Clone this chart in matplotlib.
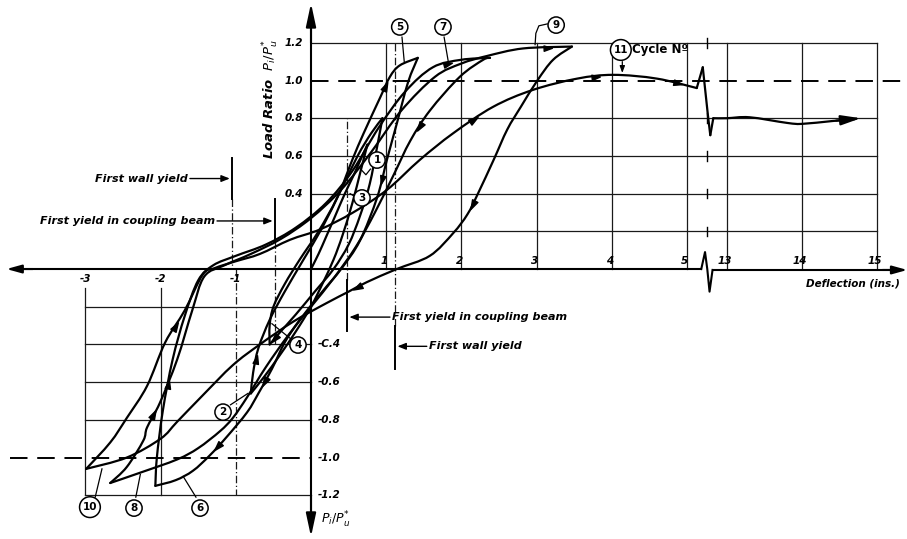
import numpy as np
import matplotlib
matplotlib.use("Agg")
import matplotlib.pyplot as plt
from matplotlib.path import Path
from matplotlib.patches import PathPatch

# ---------------- data (deflection in inches, load ratio Pi/Pu*) ----------------
x_ticks_pos = [1, 2, 3, 4, 5, 13, 14, 15]
x_ticks_neg = [-3, -2, -1]
y_ticks_pos = [0.4, 0.6, 0.8, 1.0, 1.2]
y_labels_pos = ["0.4", "0.6", "0.8", "1.0", "1.2"]
y_ticks_neg = [-0.4, -0.6, -0.8, -1.0, -1.2]
y_labels_neg = ["-C.4", "-0.6", "-0.8", "-1.0", "-1.2"]

c1_x = [0.0, 0.10, 0.20, 0.32, 0.45, 0.57, 0.67, 0.75]
c1_y = [0.0, 0.08, 0.17, 0.28, 0.40, 0.50, 0.59, 0.66]
c2_x = [0.75, 0.66, 0.55, 0.42, 0.30, 0.15, 0.0, -0.20, -0.42, -0.62, -0.80]
c2_y = [0.66, 0.52, 0.35, 0.18, 0.05, -0.08, -0.20, -0.33, -0.46, -0.57, -0.66]
c3_x = [-0.80, -0.77, -0.70, -0.55, -0.35, -0.10, 0.15, 0.40, 0.62, 0.80, 0.95]
c3_y = [-0.66, -0.55, -0.42, -0.27, -0.12, 0.05, 0.22, 0.42, 0.60, 0.72, 0.80]
c4_x = [0.95, 0.88, 0.78, 0.65, 0.50, 0.30, 0.05, -0.20, -0.40, -0.55]
c4_y = [0.80, 0.65, 0.45, 0.28, 0.13, 0.0, -0.12, -0.24, -0.33, -0.40]
c5_x = [-0.55, -0.55, -0.50, -0.35, -0.15, 0.10, 0.35, 0.55, 0.70, 0.92, 1.05, 1.18, 1.42]
c5_y = [-0.40, -0.30, -0.20, -0.08, 0.05, 0.20, 0.38, 0.58, 0.72, 0.91, 1.02, 1.08, 1.12]
c6_x = [1.42, 1.29, 1.14, 1.01, 0.88, 0.65, 0.40, 0.15, -0.15, -0.35, -0.52, -0.70,
        -0.85, -1.12, -1.35, -1.57, -1.80, -2.07]
c6_y = [1.12, 0.99, 0.77, 0.58, 0.38, 0.15, 0.0, -0.12, -0.27, -0.39, -0.53, -0.66,
        -0.76, -0.89, -0.99, -1.07, -1.12, -1.15]
c7_x = [-2.07, -2.05, -1.97, -1.84, -1.68, -1.50, -1.30, -1.00, -0.60, -0.20, 0.20,
        0.55, 0.90, 1.25, 1.62, 2.00, 2.38]
c7_y = [-1.15, -1.00, -0.75, -0.48, -0.25, -0.06, 0.02, 0.07, 0.13, 0.22, 0.35,
        0.52, 0.75, 0.94, 1.07, 1.11, 1.12]
c8_x = [2.38, 2.29, 1.98, 1.58, 1.32, 1.10, 0.85, 0.60, 0.30, 0.0, -0.30, -0.60,
        -0.85, -1.04, -1.21, -1.50, -1.78, -2.27, -2.67]
c8_y = [1.12, 1.11, 1.02, 0.84, 0.68, 0.50, 0.30, 0.12, -0.05, -0.20, -0.35, -0.52,
        -0.68, -0.79, -0.86, -0.95, -1.01, -1.08, -1.135]
c9_x = [-2.67, -2.45, -2.23, -2.18, -2.01, -1.78, -1.58, -1.42, -1.15, -0.80, -0.40,
        0.0, 0.40, 0.80, 1.20, 1.65, 2.00, 2.34, 2.82, 3.47]
c9_y = [-1.135, -1.05, -0.91, -0.84, -0.71, -0.48, -0.22, -0.04, 0.02, 0.08, 0.16,
        0.27, 0.42, 0.62, 0.84, 1.02, 1.09, 1.13, 1.17, 1.18]
c10_x = [3.47, 3.22, 3.01, 2.79, 2.61, 2.43, 2.22, 2.08, 1.89, 1.58, 1.14, 0.74, 0.50,
         0.21, -0.24, -0.68, -1.04, -1.44, -1.78, -2.00, -2.45, -2.99]
c10_y = [1.18, 1.11, 1.00, 0.86, 0.74, 0.58, 0.40, 0.29, 0.19, 0.07, 0.0, -0.07, -0.12,
         -0.18, -0.28, -0.40, -0.51, -0.67, -0.81, -0.90, -1.00, -1.06]
c11_x = [-2.99, -2.67, -2.45, -2.18, -1.94, -1.68, -1.44, -1.28, -1.01, -0.68, -0.28,
         0.12, 0.56, 1.01, 1.45, 1.89, 2.42, 2.95, 3.54, 4.02, 4.60, 5.13, 5.21, 5.28,
         5.31, 5.35, 13.0, 13.3, 13.8, 14.0, 14.4, 14.7]
c11_y = [-1.06, -0.92, -0.79, -0.62, -0.39, -0.22, -0.03, 0.005, 0.04, 0.08, 0.155,
         0.21, 0.30, 0.42, 0.58, 0.72, 0.86, 0.95, 1.01, 1.03, 1.01, 0.96, 1.07, 0.81,
         0.71, 0.80, 0.80, 0.805, 0.775, 0.77, 0.785, 0.795]

# (x, y, arrow indices, sharp-corner indices)
cycles = [(c1_x, c1_y, [], []), (c2_x, c2_y, [], []), (c3_x, c3_y, [1], []),
          (c4_x, c4_y, [8], []), (c5_x, c5_y, [9], []), (c6_x, c6_y, [3, 10, 13], []),
          (c7_x, c7_y, [2, 14], []), (c8_x, c8_y, [3], []), (c9_x, c9_y, [3, 18], []),
          (c10_x, c10_y, [6, 11], []), (c11_x, c11_y, [4, 15, 18, 20], [21, 22, 23, 24, 25])]

# ---------------------------------------------------------------------------------
BREAK_SHIFT = 7.468   # 13 in. is drawn right after 5 in.


def bx(d):
    d = np.asarray(d, dtype=float)
    return np.where(d >= 12, d - BREAK_SHIFT, d)


fig = plt.figure(figsize=(9.07, 5.39), dpi=100)
ax = fig.add_axes([0, 0, 1, 1])
ax.set_xlim(-4.136, 7.926)
ax.set_ylim(-1.432, 1.427)
ax.axis("off")

K = "black"
GL = dict(color="#1a1a1a", lw=0.9, zorder=1)
TXT = dict(family="DejaVu Sans", weight="bold", style="italic", color=K)

# grid - upper right
for yv in [0.2, 0.4, 0.6, 0.8, 1.2]:
    ax.plot([0, bx(15)], [yv, yv], **GL)
for xv in [1, 2, 3, 4, 5, 13, 14, 15]:
    ax.plot([bx(xv)] * 2, [0, 1.2], **GL)
# grid - lower left
for yv in [-0.2, -0.4, -0.6, -0.8, -1.2]:
    ax.plot([-3, 0], [yv, yv], **GL)
for xv in [-3, -2]:
    ax.plot([xv, xv], [-0.1, -1.2], **GL)
ax.plot([-1, -1], [0.0, -1.2], color="#1a1a1a", lw=0.9, ls=(0, (6, 2, 1, 2)), zorder=1)

# break marks on grid lines
xb = 5.27
for yv in [0.2, 0.4, 0.6, 0.8, 1.2]:
    ax.plot([xb, xb], [yv - 0.025, yv + 0.025], color=K, lw=1.0, zorder=2)

# dashed 1.0 lines
ax.plot([0, 7.95], [1.0, 1.0], color=K, lw=1.4, ls=(0, (9, 5)), zorder=2)
ax.plot([-4.0, 0], [-1.0, -1.0], color=K, lw=1.4, ls=(0, (9, 5)), zorder=2)

# yield markers (dash-dot extensions + solid bars)
DD = dict(color="#1a1a1a", lw=0.9, ls=(0, (6, 2, 1, 2)), zorder=1)
ax.plot([1.12, 1.12], [-0.30, 1.2], **DD)
ax.plot([0.48, 0.48], [-0.06, 0.80], **DD)
ax.plot([-0.48, -0.48], [0.15, -0.40], **DD)
ax.plot([-1.05, -1.05], [0.37, 0.0], **DD)
BAR = dict(color=K, lw=1.4, zorder=3)
ax.plot([-1.05, -1.05], [0.37, 0.59], **BAR)
ax.plot([-0.48, -0.48], [0.15, 0.37], **BAR)
ax.plot([0.48, 0.48], [-0.06, -0.33], **BAR)
ax.plot([1.12, 1.12], [-0.30, -0.53], **BAR)
AR = dict(arrowstyle="-|>,head_length=0.5,head_width=0.2", color=K, lw=1.0,
          shrinkA=0, shrinkB=0)
ax.annotate("", xy=(-1.08, 0.48), xytext=(-1.61, 0.48), arrowprops=AR)
ax.annotate("", xy=(-0.51, 0.255), xytext=(-1.25, 0.255), arrowprops=AR)
ax.annotate("", xy=(0.51, -0.255), xytext=(1.05, -0.255), arrowprops=AR)
ax.annotate("", xy=(1.15, -0.41), xytext=(1.54, -0.41), arrowprops=AR)
ax.text(-1.64, 0.48, "First wall yield", ha="right", va="center", fontsize=8, **TXT)
ax.text(-1.28, 0.255, "First yield in coupling beam", ha="right", va="center",
        fontsize=8, **TXT)
ax.text(1.08, -0.255, "First yield in coupling beam", ha="left", va="center",
        fontsize=8, **TXT)
ax.text(1.57, -0.41, "First wall yield", ha="left", va="center", fontsize=8, **TXT)

# axes
AX = dict(color=K, lw=1.5, zorder=4)
ax.plot([-3.95, 5.19], [0, 0], **AX)
ax.plot([5.19, 5.24, 5.27, 5.30, 5.34], [0, 0.09, 0.0, -0.12, -0.005], **AX)
ax.plot([5.34, 7.85], [-0.005, -0.005], **AX)
ax.annotate("", xy=(-4.05, 0), xytext=(-3.7, 0),
            arrowprops=dict(arrowstyle="-|>,head_length=0.9,head_width=0.25",
                            color=K, lw=1.5, shrinkA=0, shrinkB=0))
ax.annotate("", xy=(7.93, -0.005), xytext=(7.6, -0.005),
            arrowprops=dict(arrowstyle="-|>,head_length=0.9,head_width=0.25",
                            color=K, lw=1.5, shrinkA=0, shrinkB=0))
ax.plot([0, 0], [-1.30, 1.30], **AX)
ax.annotate("", xy=(0, 1.41), xytext=(0, 1.2),
            arrowprops=dict(arrowstyle="-|>,head_length=1.4,head_width=0.3",
                            color=K, lw=1.5, shrinkA=0, shrinkB=0))
ax.annotate("", xy=(0, -1.42), xytext=(0, -1.2),
            arrowprops=dict(arrowstyle="-|>,head_length=1.4,head_width=0.3",
                            color=K, lw=1.5, shrinkA=0, shrinkB=0))

# tick labels
for v in x_ticks_pos:
    ax.text(float(bx(v)) - 0.03, 0.045, str(v), ha="center", va="center",
            fontsize=7.5, **TXT)
for v in x_ticks_neg:
    ax.text(v, -0.055, str(v), ha="center", va="center", fontsize=7.5, **TXT)
for v, s in zip(y_ticks_pos, y_labels_pos):
    ax.text(-0.11, v, s, ha="right", va="center", fontsize=7.5, **TXT)
for v, s in zip(y_ticks_neg, y_labels_neg):
    ax.text(0.09, v, s, ha="left", va="center", fontsize=7.5, **TXT)
ax.text(7.83, -0.075, "Deflection (ins.)", ha="right", va="center", fontsize=7.5, **TXT)
ax.text(-0.53, 0.90, r"Load Ratio  $P_i / P_u^{*}$", rotation=90, ha="center",
        va="center", fontsize=9.5, **TXT)
ax.text(0.13, -1.33, r"$P_i / P_u^{*}$", ha="left", va="center", fontsize=9, **TXT)


# curves: smooth (Catmull-Rom as cubic Bezier) through the read points
def smooth_path(px, py):
    P = np.column_stack([px, py])
    n = len(P)
    if n < 3:
        return Path(P)
    verts = [P[0]]
    codes = [Path.MOVETO]
    for i in range(n - 1):
        p_prev = P[i - 1] if i > 0 else P[i]
        p_next2 = P[i + 2] if i + 2 < n else P[i + 1]
        c1 = P[i] + (P[i + 1] - p_prev) / 6.0
        c2 = P[i + 1] - (p_next2 - P[i]) / 6.0
        verts += [c1, c2, P[i + 1]]
        codes += [Path.CURVE4] * 3
    return Path(np.array(verts), codes)


def draw_branch(xs, ys, corners):
    xp = bx(xs)
    yp = np.asarray(ys, dtype=float)
    cuts = [0] + sorted(corners) + [len(xp) - 1]
    cuts = sorted(set(cuts))
    for a, b in zip(cuts[:-1], cuts[1:]):
        if b - a >= 2:
            pth = smooth_path(xp[a:b + 1], yp[a:b + 1])
        else:
            pth = Path(np.column_stack([xp[a:b + 1], yp[a:b + 1]]))
        ax.add_patch(PathPatch(pth, fc="none", ec=K, lw=1.6, zorder=5,
                               joinstyle="round", capstyle="round"))


for xs, ys, arr, corners in cycles:
    draw_branch(xs, ys, corners)

fig.canvas.draw()


def arrow_marker(xp, yp, i):
    p0 = ax.transData.transform((xp[i], yp[i]))
    p1 = ax.transData.transform((xp[i + 1], yp[i + 1]))
    ang = np.arctan2(p1[1] - p0[1], p1[0] - p0[0])
    c, s = np.cos(ang), np.sin(ang)
    base = np.array([[1.0, 0.0], [-0.7, 0.55], [-0.7, -0.55], [1.0, 0.0]])
    rot = np.column_stack([base[:, 0] * c - base[:, 1] * s, base[:, 0] * s + base[:, 1] * c])
    mk = Path(rot, [Path.MOVETO, Path.LINETO, Path.LINETO, Path.CLOSEPOLY])
    mx = 0.5 * (xp[i] + xp[i + 1])
    my = 0.5 * (yp[i] + yp[i + 1])
    ax.plot([mx], [my], marker=mk, ms=7, color=K, zorder=6)


for xs, ys, arr, corners in cycles:
    xp = bx(xs)
    for i in arr:
        arrow_marker(xp, ys, i)

# end arrow on cycle 11
ax.annotate("", xy=(float(bx(14.78)), 0.80), xytext=(float(bx(14.45)), 0.787),
            arrowprops=dict(arrowstyle="-|>,head_length=1.2,head_width=0.3",
                            color=K, lw=1.5, shrinkA=0, shrinkB=0), zorder=6)

# circled cycle numbers and leaders
circ = [("5", 1.18, 1.284), ("7", 1.755, 1.284), ("9", 3.26, 1.294), ("11", 4.12, 1.162),
        ("1", 0.878, 0.578), ("3", 0.678, 0.377), ("4", -0.173, -0.403), ("2", -1.17, -0.759),
        ("10", -2.94, -1.263), ("8", -2.354, -1.268), ("6", -1.476, -1.268)]
for s, x, y in circ:
    ax.text(x, y, s, ha="center", va="center", fontsize=7.5, weight="bold",
            family="DejaVu Sans", zorder=8,
            bbox=dict(boxstyle="circle,pad=0.3", fc="white", ec=K, lw=1.1))
ax.text(4.27, 1.162, "Cycle Nº", ha="left", va="center", fontsize=8.5, weight="bold",
        family="DejaVu Sans", zorder=8)

LD = dict(color=K, lw=0.9, zorder=7)
ax.plot([1.21, 1.24], [1.23, 1.10], **LD)
ax.plot([1.77, 1.83], [1.23, 1.09], **LD)
ax.plot([3.14, 3.03, 2.99, 2.98], [1.30, 1.29, 1.25, 1.19], **LD)
ax.annotate("", xy=(4.14, 1.04), xytext=(4.14, 1.10),
            arrowprops=dict(arrowstyle="-|>,head_length=0.4,head_width=0.15", color=K,
                            lw=0.9, shrinkA=0, shrinkB=0))
ax.plot([0.79, 0.73, 0.66], [0.53, 0.50, 0.53], **LD)
ax.plot([0.60, 0.52], [0.38, 0.40], **LD)
ax.plot([-0.27, -0.52], [-0.37, -0.29], **LD)
ax.plot([-1.07, -0.84], [-0.72, -0.66], **LD)
ax.plot([-2.87, -2.78], [-1.21, -1.06], **LD)
ax.plot([-2.33, -2.27], [-1.21, -1.09], **LD)
ax.plot([-1.53, -1.70], [-1.21, -1.10], **LD)

fig.savefig("out.png", dpi=100, facecolor="white")
